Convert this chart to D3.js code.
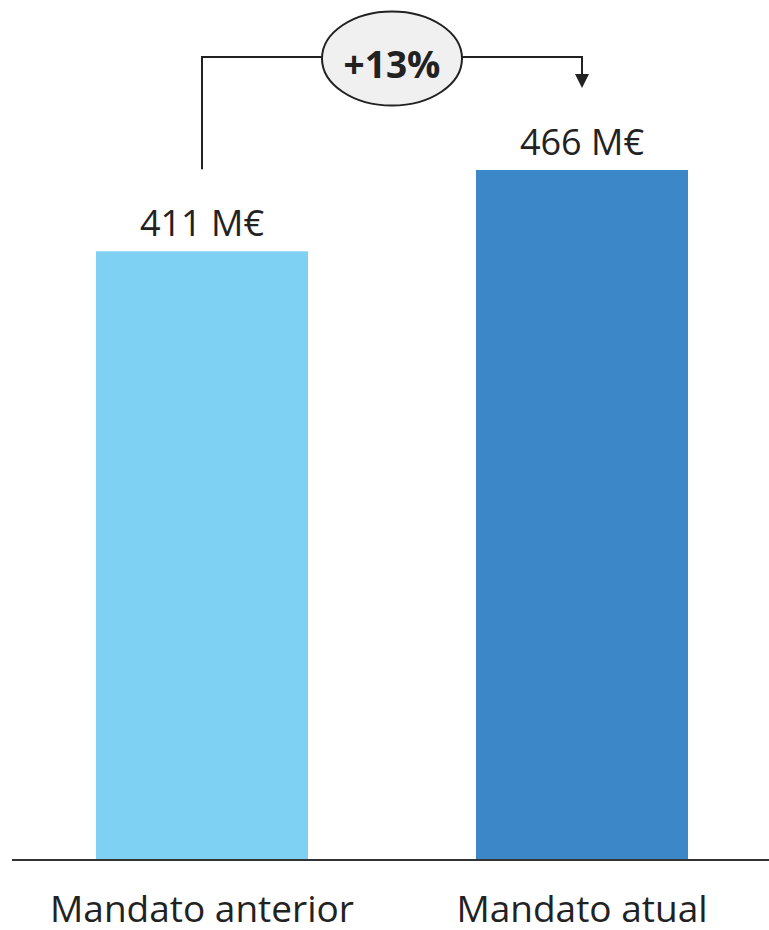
<!DOCTYPE html>
<html>
<head>
<meta charset="utf-8">
<script src="https://cdn.jsdelivr.net/npm/d3@7"></script>
<style>
    body { margin: 0; background: #fff; }
    svg { display: block; font-family: 'Open Sans', sans-serif; }
</style>
</head>
<body>
<div id="chart"></div>
<script>
// chart data
const categories = ['Mandato anterior', 'Mandato atual'];
const values = [411, 466];
const valueLabels = ['411 M€', '466 M€'];
const barColors = ['#7fd1f4', '#3c87c8'];
const changeLabel = '+13%';

const width = 769;
const height = 930;
const baseline = 859;

const svg = d3.select('#chart')
    .append('svg')
    .attr('width', width)
    .attr('height', height);

const xScale = d3.scaleBand()
    .domain(categories)
    .range([12, 772])
    .paddingInner(0.442)
    .paddingOuter(0.221);

const yScale = d3.scaleLinear()
    .domain([0, d3.max(values)])
    .range([baseline, 170]);

const data = categories.map((c, i) => ({cat: c, value: values[i], label: valueLabels[i], color: barColors[i]}));

// bars
svg.append('g')
    .selectAll('rect')
    .data(data)
    .join('rect')
    .attr('x', d => xScale(d.cat))
    .attr('y', d => yScale(d.value))
    .attr('width', xScale.bandwidth())
    .attr('height', d => baseline - yScale(d.value))
    .style('fill', d => d.color);

// value labels
svg.append('g')
    .selectAll('text')
    .data(data)
    .join('text')
    .attr('x', d => xScale(d.cat) + xScale.bandwidth() / 2)
    .attr('y', d => yScale(d.value) - 15)
    .attr('text-anchor', 'middle')
    .style('font-size', '36px')
    .style('fill', '#222')
    .text(d => d.label);

// baseline
svg.append('line')
    .attr('x1', 12)
    .attr('x2', width)
    .attr('y1', baseline + 1)
    .attr('y2', baseline + 1)
    .style('stroke', '#333')
    .style('stroke-width', 2);

// category labels
svg.append('g')
    .selectAll('text')
    .data(data)
    .join('text')
    .attr('x', d => xScale(d.cat) + xScale.bandwidth() / 2)
    .attr('y', 922)
    .attr('text-anchor', 'middle')
    .style('font-size', '37px')
    .style('fill', '#222')
    .text(d => d.cat);

// change connector
const xA = xScale(categories[0]) + xScale.bandwidth() / 2;
const xB = xScale(categories[1]) + xScale.bandwidth() / 2;
const yStart = yScale(values[0]) - 82;
const yEnd = yScale(values[1]) - 82;
const yTop = yScale(values[1]) - 113;
const midX = (xA + xB) / 2;

svg.append('path')
    .attr('d', `M${xA},${yStart}V${yTop}H${xB}V${yEnd - 12}`)
    .style('fill', 'none')
    .style('stroke', '#222')
    .style('stroke-width', 2);

svg.append('path')
    .attr('d', `M${xB - 7},${yEnd - 14}L${xB + 7},${yEnd - 14}L${xB},${yEnd}Z`)
    .style('fill', '#222');

svg.append('ellipse')
    .attr('cx', midX)
    .attr('cy', yTop + 1.5)
    .attr('rx', 70)
    .attr('ry', 47)
    .style('fill', '#f0f0f0')
    .style('stroke', '#222')
    .style('stroke-width', 2);

svg.append('text')
    .attr('x', midX)
    .attr('y', yTop + 21)
    .attr('text-anchor', 'middle')
    .style('font-size', '37px')
    .style('font-weight', 'bold')
    .style('fill', '#222')
    .text(changeLabel);
</script>
</body>
</html>
